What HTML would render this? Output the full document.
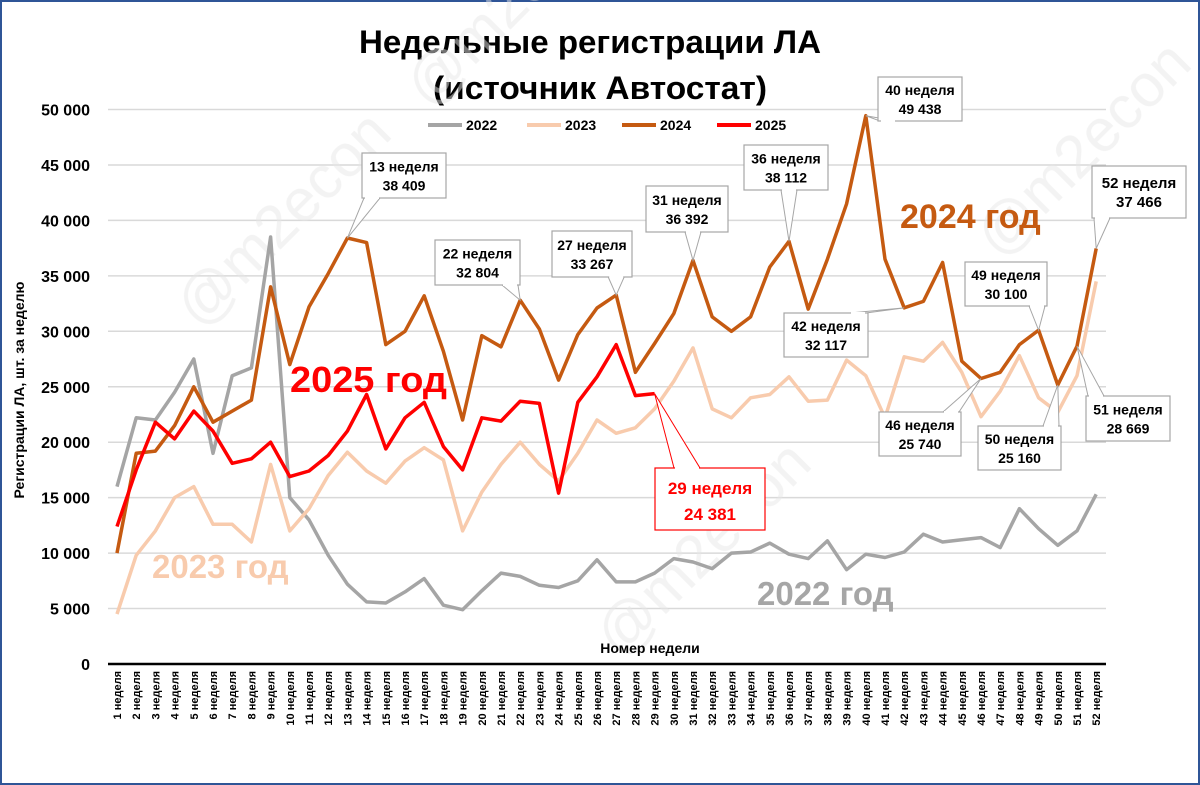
<!DOCTYPE html>
<html><head><meta charset="utf-8"><style>
body{margin:0;width:1200px;height:785px;background:#fff;overflow:hidden}
svg{display:block;font-family:"Liberation Sans","DejaVu Sans",sans-serif}
</style></head><body>
<svg id="s" width="1200" height="785" viewBox="0 0 1200 785" xmlns="http://www.w3.org/2000/svg">
<rect x="1" y="1" width="1198" height="783" fill="#fff" stroke="#2f5597" stroke-width="2"/>
<g font-weight="bold" fill="#000" text-anchor="middle" font-size="32">
<text x="590" y="53" textLength="462" lengthAdjust="spacingAndGlyphs">Недельные регистрации ЛА</text>
<text x="600" y="99" textLength="334" lengthAdjust="spacingAndGlyphs">(источник Автостат)</text>
</g>
<g id="grid"></g>
<g id="watermark" fill="#e6e6e6" font-size="60" opacity="0.5">
<text transform="translate(200,330) rotate(-45)">@m2econ</text>
<text transform="translate(620,660) rotate(-45)">@m2econ</text>
<text transform="translate(1000,260) rotate(-45)">@m2econ</text>
<text transform="translate(430,110) rotate(-45)">@m2econ</text>
</g>
<g id="lines"></g>
<g font-weight="bold" font-size="36">
<text x="290" y="392" fill="#ff0000" textLength="157" lengthAdjust="spacingAndGlyphs">2025 год</text>
<text x="152" y="578" fill="#f8cbad" font-size="33">2023 год</text>
<text x="757" y="605" fill="#a6a6a6" font-size="33">2022 год</text>
<text x="900" y="228" fill="#c55a11" font-size="34">2024 год</text>
</g>
<g id="legend" font-size="14" font-weight="bold">
<line x1="428" y1="125" x2="462" y2="125" stroke="#a5a5a5" stroke-width="4"/><text x="466" y="130">2022</text>
<line x1="527" y1="125" x2="561" y2="125" stroke="#f8cbad" stroke-width="4"/><text x="565" y="130">2023</text>
<line x1="622" y1="125" x2="656" y2="125" stroke="#c55a11" stroke-width="4"/><text x="660" y="130">2024</text>
<line x1="717" y1="125" x2="751" y2="125" stroke="#ff0000" stroke-width="4"/><text x="755" y="130">2025</text>
</g>
<text x="650" y="653" font-size="14" font-weight="bold" text-anchor="middle">Номер недели</text>
<text transform="translate(24,390) rotate(-90)" font-size="14" font-weight="bold" text-anchor="middle">Регистрации ЛА, шт. за неделю</text>
<g id="callouts"></g>
</svg>
<script>
var NS="http://www.w3.org/2000/svg";
function X(w){return 117+(w-1)*19.2}
function Y(v){return 664-v*0.01109}
function el(p,t,a,txt){var e=document.createElementNS(NS,t);for(var k in a)e.setAttribute(k,a[k]);if(txt!=null)e.textContent=txt;p.appendChild(e);return e}
var g=document.getElementById('grid');
for(var i=0;i<=10;i++){var v=i*5000,y=Y(v);
 if(i>0)el(g,'line',{x1:108,x2:1106,y1:y,y2:y,stroke:'#d9d9d9','stroke-width':1.5});
 el(g,'text',{x:90,y:y+6,'text-anchor':'end','font-size':16,'font-weight':'bold'},i==0?'0':(v/1000)+' 000');}
el(g,'line',{x1:108,x2:1106,y1:664,y2:664,stroke:'#000','stroke-width':2.5});
for(var w=1;w<=52;w++){el(g,'text',{transform:'translate('+(X(w)+4)+',671) rotate(-90)','text-anchor':'end','font-size':11,'font-weight':'bold'},w+' неделя');}
var d22=[16000,22200,22000,24500,27500,19000,26000,26700,38500,15000,13000,9800,7200,5600,5500,6500,7700,5300,4900,6600,8200,7900,7100,6900,7500,9400,7400,7400,8200,9500,9200,8600,10000,10100,10900,9900,9500,11100,8500,9900,9600,10100,11700,11000,11200,11400,10500,14000,12200,10700,12000,15300];
var d23=[4500,9800,12000,15000,16000,12600,12600,11000,18000,12000,14000,17000,19100,17400,16300,18300,19500,18400,12000,15500,18000,20000,18000,16500,19000,22000,20800,21300,23000,25500,28500,23000,22200,24000,24300,25900,23700,23800,27400,26000,22200,27700,27300,29000,26300,22300,24600,27800,24000,22700,26000,34500];
var d24=[10000,19000,19200,21500,25000,21800,22800,23800,34000,27000,32200,35200,38409,38000,28800,30000,33200,28200,22000,29600,28600,32804,30200,25600,29700,32100,33267,26300,28900,31600,36392,31300,30000,31300,35800,38112,32000,36500,41500,49438,36500,32117,32700,36200,27300,25740,26300,28800,30100,25160,28669,37466];
var d25=[12400,17500,21800,20300,22800,21000,18100,18500,20000,16900,17400,18800,21000,24300,19400,22200,23600,19600,17500,22200,21900,23700,23500,15400,23600,25900,28800,24200,24381];
var L=document.getElementById('lines');
[[d22,'#a5a5a5'],[d23,'#f8cbad'],[d24,'#c55a11'],[d25,'#ff0000']].forEach(function(s){
 el(L,'polyline',{points:s[0].map(function(v,i){return X(i+1).toFixed(1)+','+Y(v).toFixed(1)}).join(' '),fill:'none',stroke:s[1],'stroke-width':3.5,'stroke-linejoin':'round'});});
var C=document.getElementById('callouts');
var co=[[13,38409,362,153,84,45],[22,32804,435,240,85,45],[27,33267,552,231,80,46],[31,36392,646,186,82,46],[36,38112,744,145,84,45],[40,49438,878,77,84,44],[42,32117,784,313,84,44],[46,25740,879,412,82,44],[49,30100,965,262,82,44],[50,25160,978,426,83,44],[51,28669,1086,396,84,45],[52,37466,1092,166,94,52]];
function fmt(v){var s=String(v);return s.slice(0,s.length-3)+' '+s.slice(-3)}
co.forEach(function(c){var px=X(c[0]),py=Y(c[1]);var bx=c[2],by=c[3],bw=c[4],bh=c[5];
 var cx=Math.max(bx+10,Math.min(bx+bw-10,px)),cy=py<by?by:by+bh;
 el(C,'polygon',{points:(cx-8)+','+cy+' '+px+','+py+' '+(cx+8)+','+cy,fill:'#fff',stroke:'#a6a6a6','stroke-width':1});
 el(C,'rect',{x:bx,y:by,width:bw,height:bh,fill:'#fff',stroke:'#a6a6a6','stroke-width':1.2});
 el(C,'line',{x1:cx-7,x2:cx+7,y1:cy,y2:cy,stroke:'#fff','stroke-width':2});
 var fs=c[0]==52?15:14;
 el(C,'text',{x:bx+bw/2,y:by+bh/2-4,'text-anchor':'middle','font-size':fs,'font-weight':'bold'},c[0]+' неделя');
 el(C,'text',{x:bx+bw/2,y:by+bh/2+15,'text-anchor':'middle','font-size':fs,'font-weight':'bold'},fmt(c[1]));});
var px=X(29),py=Y(24381);
el(C,'polygon',{points:'674,468 '+px+','+py+' 700,468',fill:'#fff',stroke:'#ff0000','stroke-width':1});
el(C,'rect',{x:655,y:468,width:110,height:62,fill:'#fff',stroke:'#ff0000','stroke-width':1.2});
el(C,'line',{x1:675,x2:699,y1:468,y2:468,stroke:'#fff','stroke-width':2});
el(C,'text',{x:710,y:494,'text-anchor':'middle','font-size':17,'font-weight':'bold',fill:'#ff0000'},'29 неделя');
el(C,'text',{x:710,y:520,'text-anchor':'middle','font-size':17,'font-weight':'bold',fill:'#ff0000'},'24 381');
</script>
</body></html>
